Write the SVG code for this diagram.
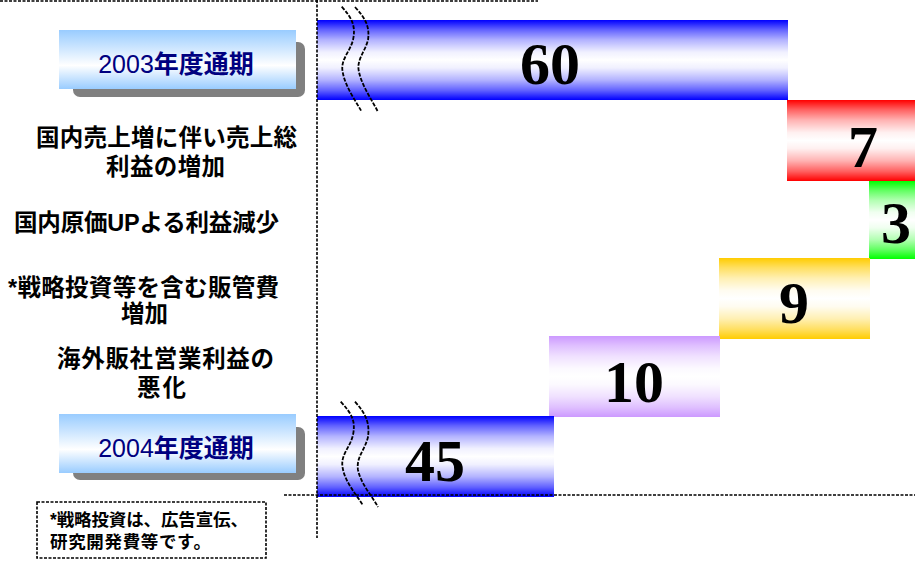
<svg xmlns="http://www.w3.org/2000/svg" width="915" height="562" viewBox="0 0 915 562">
<style>
.dash{fill:none;stroke:#000;stroke-width:1.6;stroke-dasharray:3 1.5}
.brk{fill:none;stroke:#000;stroke-width:1.8;stroke-dasharray:4 1.5}
.num{font-family:"Liberation Serif","Times New Roman",serif;font-weight:bold;font-size:60px;fill:#000;text-anchor:middle}
.lab{font-family:"Liberation Sans","Noto Sans CJK JP",sans-serif;font-weight:bold;font-size:23.5px;fill:#000}
.note{font-family:"Liberation Sans","Noto Sans CJK JP",sans-serif;font-weight:bold;font-size:17.5px;fill:#000}
.yr{font-family:"Liberation Sans","Noto Sans CJK JP",sans-serif;font-size:25px;fill:#000080;text-anchor:middle}
.shadow{fill:#808080}
.s0{stop-opacity:1}.s1{stop-opacity:0.62}.s2{stop-opacity:0.3}.s3{stop-opacity:0.06}.s4{stop-opacity:0}
</style>
<defs>
<linearGradient id="gBlue" x1="0" y1="0" x2="0" y2="1"><stop offset="0" class="s0" stop-color="#0000ff"/><stop offset="0.12" class="s1" stop-color="#0000ff"/><stop offset="0.25" class="s2" stop-color="#0000ff"/><stop offset="0.4" class="s3" stop-color="#0000ff"/><stop offset="0.5" class="s4" stop-color="#0000ff"/><stop offset="0.6" class="s3" stop-color="#0000ff"/><stop offset="0.75" class="s2" stop-color="#0000ff"/><stop offset="0.88" class="s1" stop-color="#0000ff"/><stop offset="1" class="s0" stop-color="#0000ff"/></linearGradient>
<linearGradient id="gRed" x1="0" y1="0" x2="0" y2="1"><stop offset="0" class="s0" stop-color="#ff0000"/><stop offset="0.12" class="s1" stop-color="#ff0000"/><stop offset="0.25" class="s2" stop-color="#ff0000"/><stop offset="0.4" class="s3" stop-color="#ff0000"/><stop offset="0.5" class="s4" stop-color="#ff0000"/><stop offset="0.6" class="s3" stop-color="#ff0000"/><stop offset="0.75" class="s2" stop-color="#ff0000"/><stop offset="0.88" class="s1" stop-color="#ff0000"/><stop offset="1" class="s0" stop-color="#ff0000"/></linearGradient>
<linearGradient id="gGreen" x1="0" y1="0" x2="0" y2="1"><stop offset="0" class="s0" stop-color="#00ff00"/><stop offset="0.12" class="s1" stop-color="#00ff00"/><stop offset="0.25" class="s2" stop-color="#00ff00"/><stop offset="0.4" class="s3" stop-color="#00ff00"/><stop offset="0.5" class="s4" stop-color="#00ff00"/><stop offset="0.6" class="s3" stop-color="#00ff00"/><stop offset="0.75" class="s2" stop-color="#00ff00"/><stop offset="0.88" class="s1" stop-color="#00ff00"/><stop offset="1" class="s0" stop-color="#00ff00"/></linearGradient>
<linearGradient id="gOrange" x1="0" y1="0" x2="0" y2="1"><stop offset="0" class="s0" stop-color="#ffcc00"/><stop offset="0.12" class="s1" stop-color="#ffcc00"/><stop offset="0.25" class="s2" stop-color="#ffcc00"/><stop offset="0.4" class="s3" stop-color="#ffcc00"/><stop offset="0.5" class="s4" stop-color="#ffcc00"/><stop offset="0.6" class="s3" stop-color="#ffcc00"/><stop offset="0.75" class="s2" stop-color="#ffcc00"/><stop offset="0.88" class="s1" stop-color="#ffcc00"/><stop offset="1" class="s0" stop-color="#ffcc00"/></linearGradient>
<linearGradient id="gPurple" x1="0" y1="0" x2="0" y2="1"><stop offset="0" class="s0" stop-color="#cc99ff"/><stop offset="0.12" class="s1" stop-color="#cc99ff"/><stop offset="0.25" class="s2" stop-color="#cc99ff"/><stop offset="0.4" class="s3" stop-color="#cc99ff"/><stop offset="0.5" class="s4" stop-color="#cc99ff"/><stop offset="0.6" class="s3" stop-color="#cc99ff"/><stop offset="0.75" class="s2" stop-color="#cc99ff"/><stop offset="0.88" class="s1" stop-color="#cc99ff"/><stop offset="1" class="s0" stop-color="#cc99ff"/></linearGradient>
<linearGradient id="gLabel" x1="0" y1="0" x2="0" y2="1"><stop offset="0" stop-color="#99ccff"/><stop offset="0.6" stop-color="#ffffff"/><stop offset="1" stop-color="#99ccff"/></linearGradient>
</defs>

<g id="bar-2003">
<rect x="317" y="20" width="471" height="80" fill="#fff"/>
<rect x="317" y="20" width="471" height="80" fill="url(#gBlue)"/>
<text class="num" x="550" y="84">60</text>
</g>
<g id="bar-domestic-sales">
<rect x="787" y="100" width="128" height="81" fill="#fff"/>
<rect x="787" y="100" width="128" height="81" fill="url(#gRed)"/>
<text class="num" x="863" y="167">7</text>
</g>
<g id="bar-domestic-cost">
<rect x="869" y="181" width="46" height="78" fill="#fff"/>
<rect x="869" y="181" width="46" height="78" fill="url(#gGreen)"/>
<text class="num" x="896" y="243">3</text>
</g>
<g id="bar-sga">
<rect x="719" y="258" width="151" height="81" fill="#fff"/>
<rect x="719" y="258" width="151" height="81" fill="url(#gOrange)"/>
<text class="num" x="794" y="323">9</text>
</g>
<g id="bar-overseas">
<rect x="549" y="336" width="171" height="81" fill="#fff"/>
<rect x="549" y="336" width="171" height="81" fill="url(#gPurple)"/>
<text class="num" x="634" y="402">10</text>
</g>
<g id="bar-2004">
<rect x="317" y="416" width="237" height="81" fill="#fff"/>
<rect x="317" y="416" width="237" height="81" fill="url(#gBlue)"/>
<text class="num" x="435" y="481">45</text>
</g>

<g id="connectors">
<line class="dash" x1="0" y1="1" x2="538" y2="1"/>
<line class="dash" x1="317" y1="0" x2="317" y2="538"/>
<line class="dash" x1="284" y1="495" x2="915" y2="495"/>
<path class="brk" d="M341.7,6.7 C352,18 356,26 353,40 C350,52 340,60 342.7,72 C345,86 355,100 361.7,111.7"/>
<path class="brk" d="M355,7 C365,18 370,26 368,40 C365,52 356,60 359,72 C362,86 372,100 378,112"/>
<path class="brk" d="M340.7,401.7 C351,413 356,420 353,435 C350,448 340,455 342.7,468 C345,482 356,494 362.7,505"/>
<path class="brk" d="M355,401.7 C365,413 370,422 368,437 C365,450 356,457 358,470 C361,484 372,496 378,507"/>
</g>

<g id="label-2003">
<rect class="shadow" x="73" y="42" width="232" height="55" rx="7"/>
<rect x="59" y="30" width="237" height="59" fill="url(#gLabel)"/>
<text class="yr" x="176" y="73"><tspan>2003</tspan><tspan font-weight="bold">年度通期</tspan></text>
</g>
<g id="label-2004">
<rect class="shadow" x="73" y="427" width="232" height="53" rx="7"/>
<rect x="59" y="414" width="237" height="59" fill="url(#gLabel)"/>
<text class="yr" x="176" y="457"><tspan>2004</tspan><tspan font-weight="bold">年度通期</tspan></text>
</g>

<g id="label-domestic-sales">
<text class="lab" x="36" y="146" textLength="261" lengthAdjust="spacing">国内売上増に伴い売上総</text>
<text class="lab" x="106" y="175" textLength="119" lengthAdjust="spacing">利益の増加</text>
</g>
<g id="label-domestic-cost">
<text class="lab" x="14" y="231" textLength="265" lengthAdjust="spacing">国内原価UPよる利益減少</text>
</g>
<g id="label-sga">
<text class="lab" x="8" y="296" textLength="271" lengthAdjust="spacing">*戦略投資等を含む販管費</text>
<text class="lab" x="121" y="322" textLength="47" lengthAdjust="spacing">増加</text>
</g>
<g id="label-overseas">
<text class="lab" x="57" y="367" textLength="217" lengthAdjust="spacing">海外販社営業利益の</text>
<text class="lab" x="137" y="396" textLength="49" lengthAdjust="spacing">悪化</text>
</g>

<g id="note">
<rect class="dash" x="37" y="502" width="229" height="56"/>
<text class="note" x="50" y="526" textLength="198" lengthAdjust="spacing">*戦略投資は、広告宣伝、</text>
<text class="note" x="50" y="548" textLength="161" lengthAdjust="spacing">研究開発費等です。</text>
</g>
</svg>
